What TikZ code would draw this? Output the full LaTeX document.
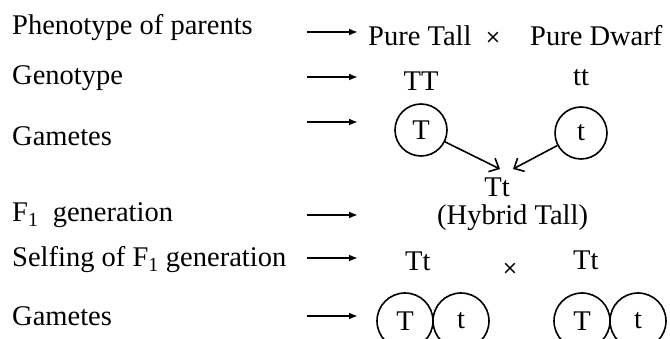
\documentclass[tikz,border=0pt]{standalone}
\usepackage{fontspec}
\setmainfont{Liberation Serif}
\newfontfamily\crossfont{DejaVu Sans}
\usepackage{tikz}
\usetikzlibrary{arrows.meta,positioning}
\newcommand{\bigtxt}{\fontsize{28.5}{32}\selectfont}
\tikzset{
  ar/.style={-{Latex[length=9pt,width=7pt]},line width=1.8pt},
  cr/.style={-{Straight Barb[length=8pt,width=15pt]},line width=1.6pt},
  lab/.style={anchor=base west,inner sep=0pt,font=\bigtxt},
  txt/.style={anchor=base,inner sep=0pt,font=\bigtxt},
  crs/.style={inner sep=0pt,font=\crossfont\fontsize{19}{20}\selectfont},
  gam/.style={draw,circle,line width=1.6pt,inner sep=0pt,font=\bigtxt}
}
\begin{document}
\begin{tikzpicture}[x=1pt,y=-1pt]
\useasboundingbox (0,0) rectangle (670,339);
% row labels
\node[lab] (lphen) at (12,35) {Phenotype of parents};
\node[lab] (lgeno) at (12,85) {Genotype};
\node[lab] (lgam) at (12,146) {Gametes};
\node[lab] (lfone) at (12,222) {F\textsubscript{1}\ \ generation};
\node[lab] (lself) at (12,267) {Selfing of F\textsubscript{1} generation};
\node[lab] (lgamb) at (12,326) {Gametes};
\foreach \y [count=\i] in {32,77,122,215,258,316}{
  \coordinate (s\i) at (307,\y);
  \coordinate (e\i) at (358,\y);
  \draw[ar] (s\i) -- (e\i);
}
% parents
\node[lab] (ptall) at (368,46) {Pure Tall};
\node[crs] (xa) at (493,38) {×};
\node[lab] (pdwarf) at (530,46) {Pure Dwarf};
\node[txt] (gTT) at (421,91) {TT};
\node[txt] (gtt) at (581,86) {tt};
% gametes of parents
\node[gam,minimum size=52pt] (mT) at (421,130) {T};
\node[gam,minimum size=52pt] (mt) at (581,133) {t};
% F1
\node[txt] (fone) at (497,197) {Tt};
\node[lab] (hyb) at (437,225) {(Hybrid Tall)};
\coordinate (tipL) at (500,169);
\coordinate (tipR) at (513,169);
\draw[cr] (mT) -- (tipL);
\draw[cr] (mt) -- (tipR);
% selfing
\node[lab] (sTa) at (405,271) {Tt};
\node[crs] (xb) at (510,269) {×};
\node[lab] (sTb) at (573,270) {Tt};
% gametes of F1
\foreach \x/\g [count=\k] in {405/T,461/t,582/T,638/t}{
  \node[gam,minimum size=56pt] (b\k) at (\x,321) {\g};
}
\end{tikzpicture}
\end{document}
